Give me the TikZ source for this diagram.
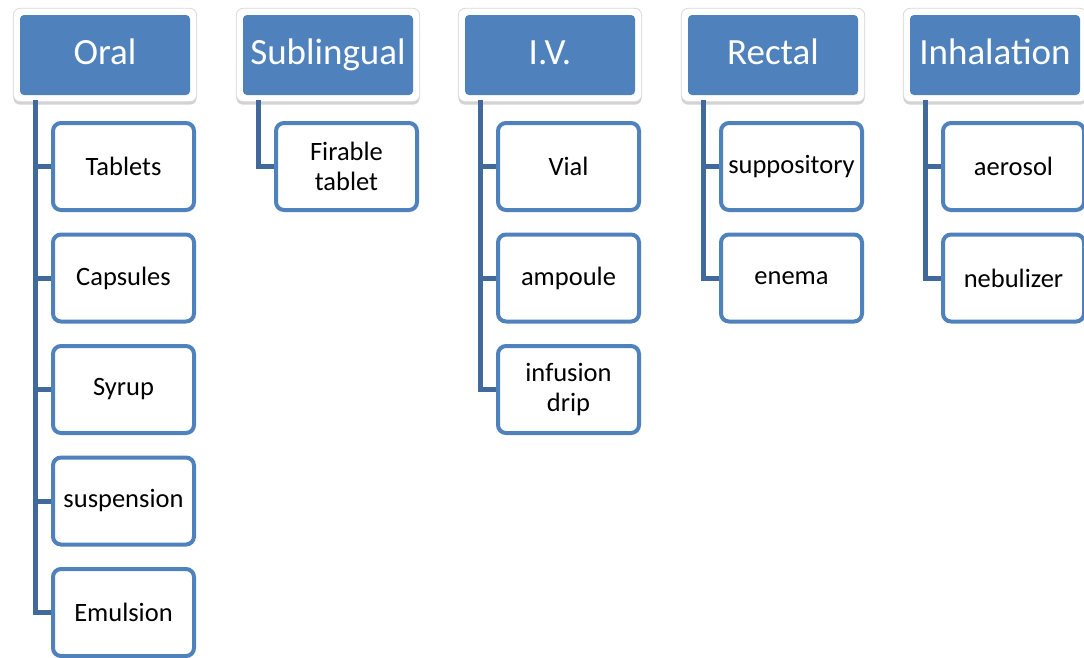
\documentclass[tikz,border=0pt]{standalone}
\usepackage{fontspec}
\setmainfont{Carlito}
\usepackage{xcolor}
\usetikzlibrary{positioning,fit,shadows,backgrounds}

\definecolor{routeblue}{HTML}{4F81BD}
\definecolor{linkblue}{HTML}{41699C}

\begin{document}
\begin{tikzpicture}[
  x=1pt, y=-1pt,
  node distance=20.5pt,
  route/.style={rectangle, rounded corners=4pt, fill=routeblue, text=white,
                minimum width=170pt, minimum height=80pt, inner sep=0pt,
                text height=27pt, text depth=9pt,
                font=\fontsize{37}{40}\selectfont},
  frame/.style={rectangle, rounded corners=7pt, fill=white, draw=black!15,
                line width=0.8pt, inner sep=6.5pt,
                drop shadow={opacity=0.35, shadow xshift=0pt, shadow yshift=-3pt}},
  form/.style={rectangle, rounded corners=8pt, draw=routeblue, fill=white,
               line width=4pt, minimum width=141pt, minimum height=87pt,
               align=center, inner sep=0pt, font=\fontsize{26.5}{30}\selectfont},
  link/.style={line width=5pt, linkblue}
]
\useasboundingbox (0,0) rectangle (1084,657);

% routes
\node[route] (oral) at (105,55) {Oral};
\node[route] (subl) at (328,55) {Sublingual};
\node[route] (iv) at (550,55) {I.V.};
\node[route] (rect) at (773,55) {Rectal};
\node[route] (inh) at (995,55) {Inhalation};

\begin{scope}[on background layer]
\node[frame, fit=(oral)] {};
\node[frame, fit=(subl)] {};
\node[frame, fit=(iv)] {};
\node[frame, fit=(rect)] {};
\node[frame, fit=(inh)] {};
\end{scope}

% dosage forms
\node[form] (tab) at (123.5,166.5) {Tablets};
\node[form, below=of tab] (cap) {Capsules};
\node[form, below=of cap] (syr) {Syrup};
\node[form, below=of syr] (susp) {suspension};
\node[form, below=of susp] (emul) {Emulsion};

\node[form] (fir) at (346.5,166.5) {Firable\\tablet};

\node[form] (vial) at (568.5,166.5) {Vial};
\node[form, below=of vial] (amp) {ampoule};
\node[form, below=of amp] (drip) {infusion\\drip};

\node[form] (supp) at (791.5,166.5) {suppository};
\node[form, below=of supp] (enem) {enema};

\node[form] (aero) at (1013.5,166.5) {aerosol};
\node[form, below=of aero] (neb) {nebulizer};

% links
\draw[link] ([xshift=16pt,yshift=-5pt]oral.south west) |- (emul.west);
\foreach \f in {tab,cap,syr,susp}
  \draw[link] (\f.west) -- ++(-17pt,0);
\draw[link] ([xshift=16pt,yshift=-5pt]subl.south west) |- (fir.west);
\draw[link] ([xshift=16pt,yshift=-5pt]iv.south west) |- (drip.west);
\draw[link] (vial.west) -- ++(-17pt,0);
\draw[link] (amp.west) -- ++(-17pt,0);
\draw[link] ([xshift=16pt,yshift=-5pt]rect.south west) |- (enem.west);
\draw[link] (supp.west) -- ++(-17pt,0);
\draw[link] ([xshift=16pt,yshift=-5pt]inh.south west) |- (neb.west);
\draw[link] (aero.west) -- ++(-17pt,0);
\end{tikzpicture}
\end{document}
